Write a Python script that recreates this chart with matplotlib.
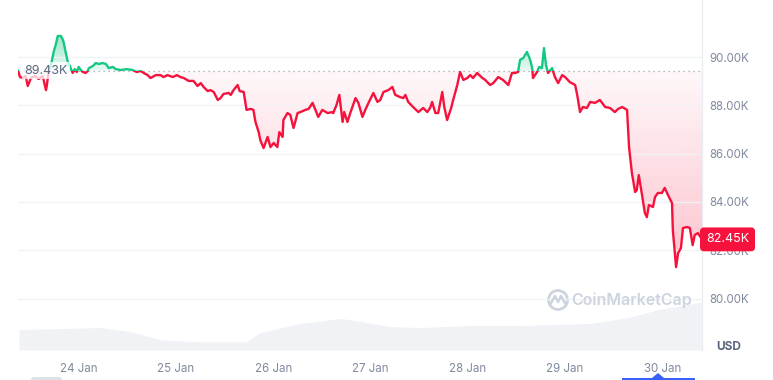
import numpy as np
import matplotlib.pyplot as plt
from matplotlib.colors import to_rgb
from matplotlib.path import Path
from matplotlib.patches import Rectangle, Circle, FancyBboxPatch, Polygon
from matplotlib.lines import Line2D
from matplotlib.transforms import blended_transform_factory

plt.rcParams["font.family"] = ["Inter", "DejaVu Sans"]

# ===========================================
# DATA  (hours since 24 Jan 00:00, price in K USD)
# ===========================================

hours = [
    -15.0, -14.5, -13.8, -13.1, -12.6, -11.8, -10.8, -9.9, -8.9, -8.1,
    -7.9, -7.4, -6.9, -6.2, -5.7, -5.2, -4.4, -3.9, -3.7, -3.2,
    -2.7, -2.2, -2.0, -1.5, -1.0, -0.5, 0.0, 0.5, 1.0, 1.7,
    2.2, 2.5, 3.5, 4.2, 4.9, 5.9, 6.7, 7.4, 8.4, 9.1,
    10.4, 11.8, 13.3, 14.3, 15.3, 16.0, 17.0, 17.7, 19.0, 20.2,
    20.9, 21.9, 23.2, 24.2, 25.1, 25.9, 27.1, 28.3, 29.3, 30.1,
    30.8, 31.8, 32.5, 33.3, 34.3, 35.0, 35.7, 37.0, 37.5, 38.2,
    39.2, 39.7, 40.7, 41.4, 42.4, 43.1, 43.6, 44.4, 44.8, 45.6,
    46.6, 47.3, 48.1, 49.0, 49.5, 50.3, 50.5, 51.5, 52.2, 53.0,
    54.0, 54.7, 55.9, 56.7, 57.7, 58.4, 59.1, 60.1, 61.4, 62.6,
    62.8, 63.6, 64.3, 65.1, 65.5, 66.3, 67.0, 68.3, 69.0, 70.0,
    70.7, 71.5, 72.7, 73.7, 74.4, 75.2, 76.4, 77.4, 78.1, 79.3,
    80.1, 80.6, 81.3, 82.5, 83.8, 85.0, 86.0, 86.7, 87.2, 88.0,
    88.7, 89.7, 90.2, 90.9, 91.9, 92.4, 93.4, 94.1, 94.9, 95.9,
    96.6, 97.3, 98.3, 99.6, 100.3, 101.5, 102.3, 103.5, 104.7, 106.0,
    106.9, 107.7, 108.4, 108.9, 109.7, 110.6, 111.4, 111.9, 112.1, 113.1,
    113.6, 114.3, 114.8, 115.3, 115.8, 116.8, 117.5, 118.3, 119.3, 120.0,
    121.2, 122.5, 123.0, 123.7, 124.4, 125.4, 126.2, 127.4, 128.6, 129.9,
    131.1, 132.3, 133.1, 134.1, 135.3, 135.8, 136.5, 137.3, 137.7, 138.2,
    139.0, 139.7, 140.2, 140.7, 141.7, 142.2, 142.9, 143.9, 144.6, 145.4,
    146.4, 146.6, 147.4, 147.9, 148.6, 149.1, 150.1, 150.8, 151.5, 152.0,
    152.8, 153.8,
]

prices = [
    89.43, 89.17, 89.13, 89.21, 88.80, 89.13, 89.21, 89.09, 89.21, 88.63,
    88.80, 89.46, 89.63, 90.21, 90.50, 90.87, 90.87, 90.70, 90.58, 90.17,
    89.79, 89.63, 89.54, 89.34, 89.50, 89.38, 89.59, 89.46, 89.38, 89.34,
    89.42, 89.54, 89.63, 89.75, 89.71, 89.75, 89.71, 89.54, 89.59, 89.50,
    89.46, 89.50, 89.46, 89.38, 89.42, 89.34, 89.25, 89.13, 89.25, 89.25,
    89.17, 89.25, 89.17, 89.25, 89.17, 89.13, 89.01, 89.01, 88.80, 88.92,
    88.76, 88.59, 88.63, 88.55, 88.22, 88.30, 88.47, 88.51, 88.43, 88.63,
    88.84, 88.59, 88.55, 87.81, 87.85, 87.81, 87.31, 86.89, 86.56, 86.23,
    86.69, 86.27, 86.44, 86.27, 86.89, 86.69, 87.39, 87.68, 87.60, 87.06,
    87.68, 87.72, 87.81, 87.85, 88.10, 87.81, 87.52, 87.81, 87.68, 87.72,
    87.68, 88.01, 88.43, 87.31, 87.72, 87.31, 87.68, 88.30, 88.10, 87.52,
    87.81, 88.10, 88.51, 88.14, 88.22, 88.55, 88.63, 88.76, 88.43, 88.34,
    88.30, 88.43, 88.14, 87.93, 87.72, 87.89, 87.72, 87.89, 88.14, 87.68,
    87.68, 88.55, 87.93, 87.39, 87.89, 88.22, 88.84, 89.38, 89.05, 89.13,
    89.25, 89.13, 89.34, 89.13, 89.05, 88.84, 88.92, 89.17, 89.05, 88.84,
    89.34, 89.34, 89.38, 89.88, 89.96, 90.21, 89.88, 89.54, 89.13, 89.38,
    89.59, 89.54, 90.37, 89.67, 89.34, 89.54, 89.17, 88.92, 89.25, 89.17,
    88.96, 88.84, 88.43, 87.72, 87.93, 87.89, 88.14, 88.10, 88.22, 87.93,
    87.89, 87.72, 87.85, 87.93, 87.81, 86.27, 85.20, 84.41, 84.49, 85.11,
    84.29, 83.54, 83.37, 83.87, 83.79, 84.20, 84.37, 84.37, 84.58, 84.29,
    83.95, 82.84, 81.30, 81.88, 82.09, 82.92, 82.96, 82.92, 82.21, 82.63,
    82.71, 82.45,
]

vol_hours = [-14.8, -4.4, 5.4, 12.8, 20.2, 30.1, 41.1, 44.8, 54.7, 64.6,
             69.5, 76.9, 84.3, 96.6, 108.9, 126.2, 136.0, 143.4, 153.8]
vol_values = [40, 42, 44, 36, 20, 16, 16, 34, 52, 62,
              56, 46, 44, 48, 48, 52, 64, 80, 94]

day_ticks = [0, 24, 48, 72, 96, 120, 144]
day_labels = ["24 Jan", "25 Jan", "26 Jan", "27 Jan", "28 Jan", "29 Jan", "30 Jan"]

price_ticks = [80, 82, 84, 86, 88, 90]
price_labels = ["80.00K", "82.00K", "84.00K", "86.00K", "88.00K", "90.00K"]

BASE = 89.43
LAST = prices[-1]

RED = "#f5123d"
GREEN = "#16c784"
GREY = "#808a9d"

X_MIN, X_MAX = -15.0, 153.8
Y_MIN, Y_MAX = 77.87, 92.36


def gradient_fill(ax, x, y, where, far, a_near, a_far, color):
    poly = ax.fill_between(x, y, BASE, where=where, interpolate=True,
                           facecolor="none", edgecolor="none")
    path = Path.make_compound_path(*poly.get_paths())
    lo, hi = sorted([BASE, far])
    rgba = np.zeros((256, 1, 4))
    rgba[..., :3] = to_rgb(color)
    ramp = np.linspace(0, 1, 256)
    if far < BASE:
        rgba[:, 0, 3] = a_far + (a_near - a_far) * ramp
    else:
        rgba[:, 0, 3] = a_near + (a_far - a_near) * ramp
    im = ax.imshow(rgba, extent=[X_MIN, X_MAX, lo, hi], origin="lower",
                   aspect="auto", zorder=1, interpolation="bilinear")
    im.set_clip_path(path, transform=ax.transData)


# ===========================================
# FIGURE
# ===========================================

fig = plt.figure(figsize=(7.73, 3.80), dpi=100)
ax = fig.add_axes([18 / 773, 30 / 380, 684 / 773, 350 / 380])

# volume area at the bottom
vol_ax = ax.twinx()
vol_ax.fill_between(vol_hours, vol_values, color="#f0f2f6", lw=0)
vol_ax.set_ylim(0, max(vol_values) * 7.3)
vol_ax.set_yticks([])
for s in vol_ax.spines.values():
    s.set_visible(False)
vol_ax.set_zorder(0)
ax.set_zorder(1)
ax.patch.set_visible(False)

x = np.array(hours)
y = np.array(prices)

gradient_fill(ax, x, y, y <= BASE, 81.0, 0.03, 0.26, RED)
gradient_fill(ax, x, y, y >= BASE, 91.0, 0.10, 0.45, GREEN)

red_line, = ax.plot(x, y, color=RED, lw=1.7, zorder=3, solid_joinstyle="round")
red_line.set_clip_path(Rectangle((X_MIN, Y_MIN), X_MAX - X_MIN, BASE - Y_MIN,
                                 transform=ax.transData))
green_line, = ax.plot(x, y, color=GREEN, lw=1.7, zorder=3, solid_joinstyle="round")
green_line.set_clip_path(Rectangle((X_MIN, BASE), X_MAX - X_MIN, Y_MAX - BASE,
                                   transform=ax.transData))

ax.axhline(BASE, color="#9aa3b5", ls=(0, (1, 3)), lw=0.9, zorder=2)

ax.set_xlim(X_MIN, X_MAX)
ax.set_ylim(Y_MIN, Y_MAX)

ax.set_yticks(price_ticks)
ax.set_yticklabels(price_labels)
ax.yaxis.tick_right()
ax.set_xticks(day_ticks)
ax.set_xticklabels(day_labels)
ax.tick_params(axis="y", length=0, pad=5, labelsize=8.3, labelcolor=GREY)
ax.tick_params(axis="x", length=0, pad=9, labelsize=8.3, labelcolor=GREY)
ax.grid(axis="y", color="#eff2f5", lw=0.9, zorder=0)

for side in ["top", "left", "bottom"]:
    ax.spines[side].set_visible(False)
ax.spines["right"].set_color("#e9ecf1")
ax.spines["right"].set_linewidth(0.9)

# ===========================================
# LABELS
# ===========================================

mixed = blended_transform_factory(ax.transAxes, ax.transData)

ax.text(0.009, BASE, "89.43K", transform=mixed, ha="left", va="center",
        fontsize=9, color="#58667e", zorder=5,
        bbox=dict(boxstyle="square,pad=0.2", fc="white", ec="none", alpha=0.75))

ax.text(1.0373, LAST, f"{LAST:.2f}K", transform=mixed, ha="center", va="center",
        fontsize=9, color="white", zorder=6, clip_on=False,
        bbox=dict(boxstyle="round,pad=0.42,rounding_size=0.25", fc=RED, ec=RED))

fig.text(716 / 773, 1 - 347 / 380, "USD", fontsize=8.5, fontweight="bold",
         color="#58667e", va="center", ha="left")

# watermark
fig.text(571 / 773, 1 - 300 / 380, "CoinMarketCap", fontsize=11.5,
         fontweight="semibold", color="#cdd4df", va="center", ha="left", zorder=2)
fig.add_artist(Circle((558, 80), 9.5, fill=False, ec="#cdd4df", lw=2.0,
                      transform=None))
fig.add_artist(Line2D([551, 555, 558, 561, 565], [77, 84, 78, 84, 77],
                      color="#cdd4df", lw=1.8, transform=None))

# range slider pieces along the bottom edge
fig.add_artist(FancyBboxPatch((31, -3), 31, 6, boxstyle="round,pad=0,rounding_size=3",
                              fc="#dde1e8", ec="none", transform=None))
fig.add_artist(Rectangle((622, 0), 73, 2.5, fc="#3861fb", ec="none", transform=None))
fig.add_artist(Polygon([(652, 2), (658, 7), (664, 2)], closed=True, fc="#3861fb",
                       ec="none", transform=None))

fig.savefig("out.png", dpi=100)
